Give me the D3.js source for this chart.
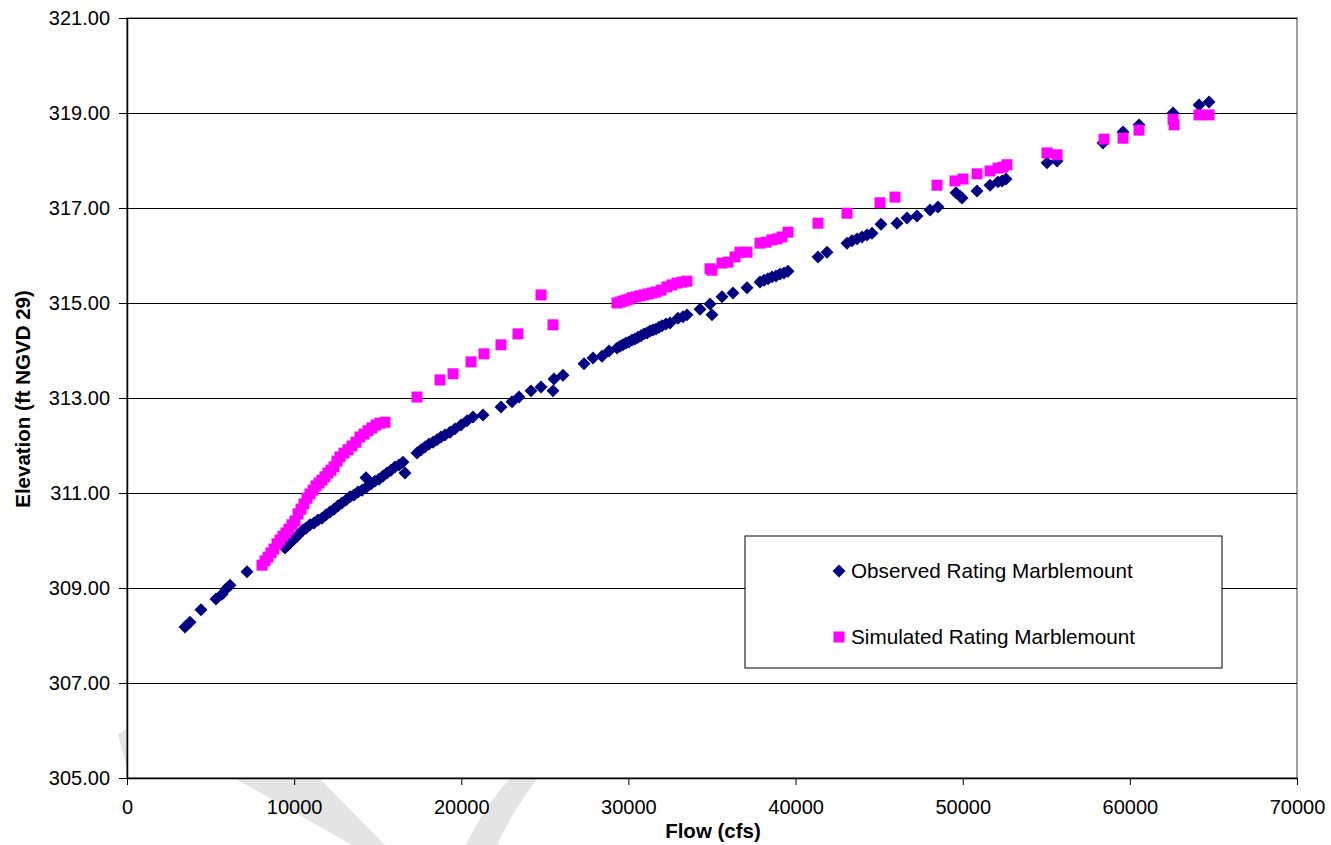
<!DOCTYPE html>
<html>
<head>
<meta charset="utf-8">
<script src="https://cdn.jsdelivr.net/npm/d3@7"></script>
<style>
  html, body { margin: 0; padding: 0; background: #fff; }
  svg { display: block; font-family: "Liberation Sans", Arial, sans-serif; }
</style>
</head>
<body>
<svg id="chart" width="1331" height="845"></svg>
<script>
// ---------------- data ----------------
const xTicks = [0, 10000, 20000, 30000, 40000, 50000, 60000, 70000];
const yTicks = [305, 307, 309, 311, 313, 315, 317, 319, 321];
const seriesNames = ["Observed Rating Marblemount", "Simulated Rating Marblemount"];
const xTitle = "Flow (cfs)";
const yTitle = "Elevation (ft NGVD 29)";

const observedFlow = [3470,3769,4427,5325,5684,5923,6162,7180,9453,9633,9812,9992,10171,10351,10530,10710,10949,11188,11428,11667,11906,12146,12385,12624,12863,13103,13342,13581,13821,14060,14299,14359,14598,14838,15077,15317,15556,15795,16035,16274,16513,16633,17351,17590,17829,18069,18308,18547,18787,19026,19325,19624,19983,20342,20701,21299,22376,23035,23453,24171,24770,25488,25548,26086,27343,27881,28420,28838,29316,29495,29675,29855,30034,30214,30393,30573,30752,30932,31112,31291,31471,31650,31830,32009,32248,32488,32966,33266,33505,34283,34881,35001,35599,36257,37095,37873,38112,38351,38591,38830,39069,39309,39548,41342,41881,43078,43377,43676,43975,44274,44573,45111,46069,46667,47266,48044,48522,49599,49838,49958,50856,51633,52112,52351,52591,55044,55643,58395,59591,60549,62583,64139,64737];
const observedElev = [308.18,308.28,308.54,308.77,308.87,308.98,309.06,309.34,309.84,309.91,309.97,310.03,310.09,310.16,310.22,310.26,310.33,310.37,310.43,310.47,310.54,310.60,310.66,310.73,310.79,310.85,310.92,310.96,311.02,311.06,311.32,311.13,311.19,311.25,311.29,311.36,311.42,311.48,311.55,311.59,311.65,311.42,311.84,311.91,311.97,312.03,312.07,312.12,312.18,312.22,312.28,312.35,312.43,312.52,312.60,312.64,312.81,312.92,313.02,313.15,313.23,313.15,313.40,313.48,313.72,313.84,313.88,313.99,314.05,314.09,314.12,314.16,314.18,314.22,314.24,314.28,314.31,314.35,314.37,314.41,314.43,314.45,314.49,314.52,314.56,314.58,314.68,314.71,314.75,314.87,314.98,314.75,315.13,315.21,315.32,315.44,315.48,315.51,315.55,315.57,315.61,315.63,315.67,315.97,316.07,316.26,316.31,316.35,316.39,316.43,316.47,316.66,316.68,316.79,316.83,316.96,317.02,317.32,317.25,317.21,317.36,317.48,317.55,317.57,317.61,317.95,317.99,318.37,318.60,318.75,319.00,319.17,319.23];

const simulatedFlow = [8077,8257,8436,8616,8795,8975,9154,9333,9513,9692,9872,10051,10231,10410,10590,10770,10949,11128,11308,11487,11667,11846,12026,12205,12385,12564,12744,12983,13222,13462,13701,13940,14180,14419,14658,14897,15137,15436,17351,18727,19505,20582,21359,22376,23393,24770,25488,29316,29495,29675,29855,30034,30214,30453,30693,30932,31171,31411,31650,31949,32308,32607,32906,33206,33505,34881,35001,35599,35958,36377,36676,37095,37873,38232,38591,38890,39189,39548,41342,43078,45051,45949,48462,49539,50018,50856,51633,52112,52411,52650,55044,55643,58455,59591,60549,62583,62650,64139,64737];
const simulatedElev = [309.48,309.57,309.65,309.74,309.82,309.93,310.01,310.09,310.16,310.24,310.33,310.41,310.56,310.66,310.77,310.89,310.98,311.06,311.15,311.21,311.27,311.34,311.42,311.48,311.55,311.67,311.76,311.84,311.91,311.99,312.07,312.18,312.24,312.31,312.37,312.43,312.47,312.49,313.02,313.38,313.51,313.76,313.93,314.12,314.35,315.17,314.54,315.00,315.02,315.04,315.06,315.08,315.11,315.13,315.15,315.17,315.19,315.21,315.23,315.27,315.34,315.38,315.42,315.44,315.46,315.72,315.69,315.84,315.86,315.97,316.07,316.07,316.26,316.28,316.33,316.35,316.39,316.49,316.68,316.89,317.11,317.23,317.48,317.57,317.61,317.72,317.78,317.84,317.86,317.91,318.16,318.12,318.45,318.47,318.64,318.87,318.75,318.96,318.96];

// ---------------- layout ----------------
const svg = d3.select("#chart");
const plot = { left: 127, right: 1297, top: 18, bottom: 778 };
const x = d3.scaleLinear().domain([0, 70000]).range([plot.left, plot.right]);
const y = d3.scaleLinear().domain([305, 321]).range([plot.bottom, plot.top]);
const navy = "#000080", magenta = "#FF00FF";

// faint watermark shapes in the margins (behind the plot area)
const wm = svg.append("g").attr("fill", "#e4e4e4");
wm.append("path").attr("d", "M236,779 L320,779 L385,845 L352,845 Z");
wm.append("path").attr("d", "M510,779 L537,779 Q510,815 497,845 L466,845 Q485,805 510,779 Z");
wm.append("path").attr("d", "M118,735 L127,728 L127,768 Z");

// plot area
svg.append("rect")
  .attr("x", plot.left).attr("y", plot.top)
  .attr("width", plot.right - plot.left).attr("height", plot.bottom - plot.top)
  .attr("fill", "#fff").attr("stroke", "#808080").attr("stroke-width", 1.5);

// gridlines
svg.append("g")
  .attr("transform", `translate(${plot.left},0)`)
  .call(d3.axisLeft(y).tickValues(yTicks).tickSize(-(plot.right - plot.left)).tickFormat(""))
  .call(g => g.select(".domain").remove())
  .call(g => g.selectAll("line").attr("stroke", "#000").attr("stroke-width", 1).attr("shape-rendering", "crispEdges"));

// y axis
svg.append("g")
  .attr("transform", `translate(${plot.left},0)`)
  .call(d3.axisLeft(y).tickValues(yTicks).tickSize(8).tickSizeOuter(0).tickPadding(9).tickFormat(d3.format(".2f")))
  .call(g => g.select(".domain").attr("stroke", "#000").attr("stroke-width", 1.5))
  .call(g => g.selectAll("line").attr("stroke", "#000"))
  .call(g => g.selectAll("text").attr("font-size", 20).attr("fill", "#000")
    .attr("font-family", "'Liberation Sans', Arial, sans-serif"));

// x axis
svg.append("g")
  .attr("transform", `translate(0,${plot.bottom})`)
  .call(d3.axisBottom(x).tickValues(xTicks).tickSize(7).tickSizeOuter(0).tickPadding(15).tickFormat(d3.format("d")))
  .call(g => g.select(".domain").attr("stroke", "#000").attr("stroke-width", 1.5))
  .call(g => g.selectAll("line").attr("stroke", "#000"))
  .call(g => g.selectAll("text").attr("font-size", 20).attr("fill", "#000")
    .attr("font-family", "'Liberation Sans', Arial, sans-serif"));

// axis titles
svg.append("text")
  .attr("x", 713).attr("y", 838)
  .attr("text-anchor", "middle")
  .attr("font-size", 20.5).attr("font-weight", "bold")
  .text(xTitle);
svg.append("text")
  .attr("transform", "translate(30,399) rotate(-90)")
  .attr("text-anchor", "middle")
  .attr("font-size", 20.5).attr("font-weight", "bold")
  .text(yTitle);

// markers
const diamond = d3.symbol().type(d3.symbolSquare).size(84);
const square = d3.symbol().type(d3.symbolSquare).size(121);

const obs = observedFlow.map((f, i) => ({ f, e: observedElev[i] }));
const sim = simulatedFlow.map((f, i) => ({ f, e: simulatedElev[i] }));

svg.append("g").selectAll("path").data(obs).join("path")
  .attr("d", diamond)
  .attr("transform", d => `translate(${x(d.f)},${y(d.e)}) rotate(45)`)
  .attr("fill", navy);

svg.append("g").selectAll("path").data(sim).join("path")
  .attr("d", square)
  .attr("transform", d => `translate(${x(d.f)},${y(d.e)})`)
  .attr("fill", magenta);

// legend
const lg = svg.append("g");
lg.append("rect")
  .attr("x", 745).attr("y", 536).attr("width", 477).attr("height", 132)
  .attr("fill", "#fff").attr("stroke", "#000").attr("stroke-width", 1);
lg.append("path").attr("d", diamond)
  .attr("transform", "translate(839,571) rotate(45)").attr("fill", navy);
lg.append("path").attr("d", square)
  .attr("transform", "translate(839,637)").attr("fill", magenta);
lg.selectAll("text.lab").data(seriesNames).join("text")
  .attr("class", "lab")
  .attr("x", 851).attr("y", (d, i) => i === 0 ? 578 : 644)
  .attr("font-size", 20.7).attr("fill", "#000")
  .text(d => d);
</script>
</body>
</html>
